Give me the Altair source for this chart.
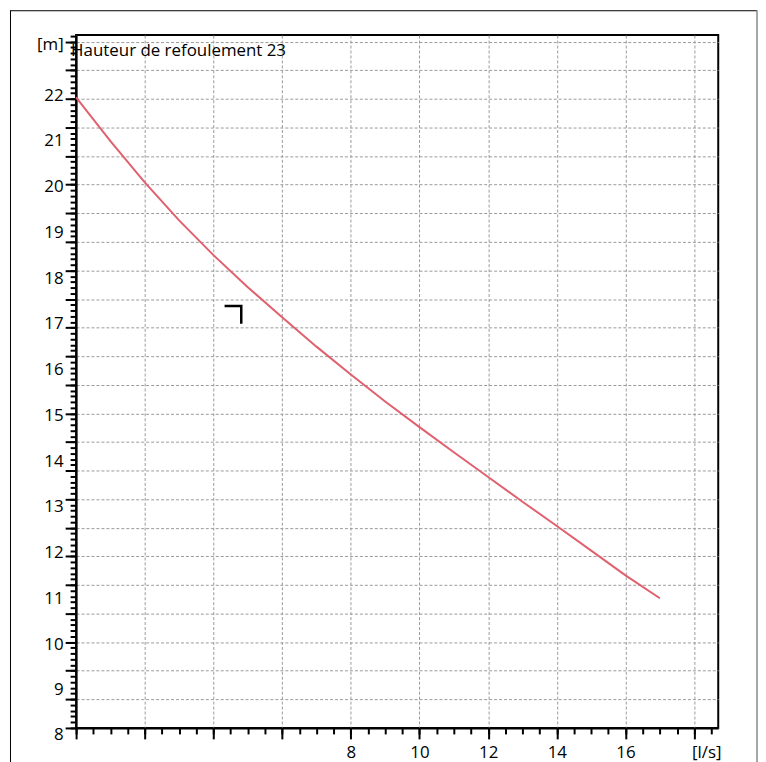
import altair as alt
import pandas as pd

# Pump curve: flow [l/s] vs head [m]
flow = [0, 1, 2, 3, 4, 5, 6, 7, 8, 9, 10, 11, 12, 13, 14, 15, 16, 17]
head = [21.91, 20.95, 20.05, 19.22, 18.46, 17.76, 17.10, 16.46, 15.85,
        15.26, 14.70, 14.15, 13.61, 13.07, 12.54, 12.00, 11.46, 10.96]

# operating-point corner marker
marker_x = [4.36, 4.81, 4.81]
marker_y = [17.35, 17.35, 16.99]

curve_title = "Hauteur de refoulement 23"
curve_title_x = [0]
curve_title_y = [22.93]

x_label_values = [8, 10, 12, 14, 16]
x_unit_value = 18.35
x_unit = "[l/s]"
y_label_values = [9, 10, 11, 12, 13, 14, 15, 16, 17, 18, 19, 20, 21, 22]
y_bottom_label = "8"
y_bottom_value = 8.125
y_unit_value = 23.1
y_unit = "[m]"

x_major = [0, 2, 4, 6, 8, 10, 12, 14, 16, 18]
x_minor = [i * 0.5 for i in range(38)]
y_major = [8.125 + 0.625 * k for k in range(25)]
y_minor = [8.125 + 0.125 * k for k in range(122)]

W, H = 646, 697
FONT = "Open Sans"
FS = 17

xs = alt.Scale(domain=[0, 18.7], nice=False, zero=False)
ys = alt.Scale(domain=[8.125, 23.27], nice=False, zero=False)

df_curve = pd.DataFrame({"q": flow, "h": head})
df_marker = pd.DataFrame({"q": marker_x, "h": marker_y, "o": [0, 1, 2]})
df_title = pd.DataFrame({"q": curve_title_x, "h": curve_title_y, "t": [curve_title]})

grid_kw = dict(grid=True, gridDash=[3, 2], gridColor="#9a9a9a", gridWidth=1)

curve = alt.Chart(df_curve).mark_line(color="#e0606e", strokeWidth=2).encode(
    x=alt.X("q:Q", scale=xs, axis=alt.Axis(
        orient="bottom", values=x_major, labels=False, tickSize=11, tickWidth=2,
        tickColor="black", domain=True, domainColor="black", domainWidth=2,
        title=None, **grid_kw)),
    y=alt.Y("h:Q", scale=ys, axis=alt.Axis(
        orient="left", values=y_major, labels=False, tickSize=11, tickWidth=2,
        tickColor="black", domain=True, domainColor="black", domainWidth=2,
        title=None, **grid_kw)),
)

marker = alt.Chart(df_marker).mark_line(color="black", strokeWidth=2.5, strokeCap="square").encode(
    x=alt.X("q:Q", scale=xs, axis=alt.Axis(
        orient="bottom", values=x_minor, labels=False, tickSize=6, tickWidth=2,
        tickColor="black", domain=False, grid=False, title=None)),
    y=alt.Y("h:Q", scale=ys, axis=alt.Axis(
        orient="left", values=y_minor, labels=False, tickSize=6, tickWidth=2,
        tickColor="black", domain=False, grid=False, title=None)),
    order="o:O",
)

text = alt.Chart(df_title).mark_text(
    align="left", baseline="middle", dx=-5, fontSize=FS, font=FONT, color="black"
).encode(
    x=alt.X("q:Q", scale=xs, axis=alt.Axis(
        orient="bottom", values=x_label_values + [x_unit_value], ticks=False, tickSize=0,
        labelPadding=17, domain=False, grid=False, title=None, format="d",
        labelExpr=f"datum.value > 17 ? '{x_unit}' : datum.label",
        labelFontSize=FS, labelFont=FONT, labelColor="black")),
    y=alt.Y("h:Q", scale=ys, axis=alt.Axis(
        orient="left", values=y_label_values + [y_unit_value], ticks=False, tickSize=0,
        labelPadding=13, domain=False, grid=False, title=None, format="d",
        labelOffset=2,
        labelExpr=f"datum.value > 22.5 ? '{y_unit}' : datum.label",
        labelFontSize=FS, labelFont=FONT, labelColor="black")),
    text="t:N",
)

# extra layer carrying only the bottom "8" label of the y axis
bottom_lbl = alt.Chart(df_title).mark_point(opacity=0).encode(
    x=alt.X("q:Q", scale=xs, axis=None),
    y=alt.Y("h:Q", scale=ys, axis=alt.Axis(
        orient="left", values=[y_bottom_value], ticks=False, tickSize=0,
        labelPadding=13, domain=False, grid=False, title=None,
        labelExpr=f"'{y_bottom_label}'", labelOffset=7, labelBound=False,
        labelFontSize=FS, labelFont=FONT, labelColor="black")),
)

one = pd.DataFrame({"a": [0]})
frame_left = alt.Chart(one).mark_rule(color="black", strokeWidth=1).encode(
    x=alt.value(-66), y=alt.value(-25), y2=alt.value(H + 40))
frame_top = alt.Chart(one).mark_rule(color="black", strokeWidth=1).encode(
    x=alt.value(-66), x2=alt.value(W + 39), y=alt.value(-24.5))
frame_right = alt.Chart(one).mark_rule(color="#888888", strokeWidth=1.5).encode(
    x=alt.value(W + 39), y=alt.value(-25), y2=alt.value(H + 40))

chart = alt.layer(curve, marker, text, bottom_lbl, frame_left, frame_top, frame_right).resolve_axis(
    x="independent", y="independent"
).properties(
    width=W, height=H,
    autosize=alt.AutoSizeParams(type="none"),
    padding={"left": 68.5, "top": 25, "right": 40, "bottom": 32},
    background="white",
).configure_view(stroke="black", strokeWidth=2)

chart.save("out.html", embed_options={"renderer": "svg", "actions": False})
